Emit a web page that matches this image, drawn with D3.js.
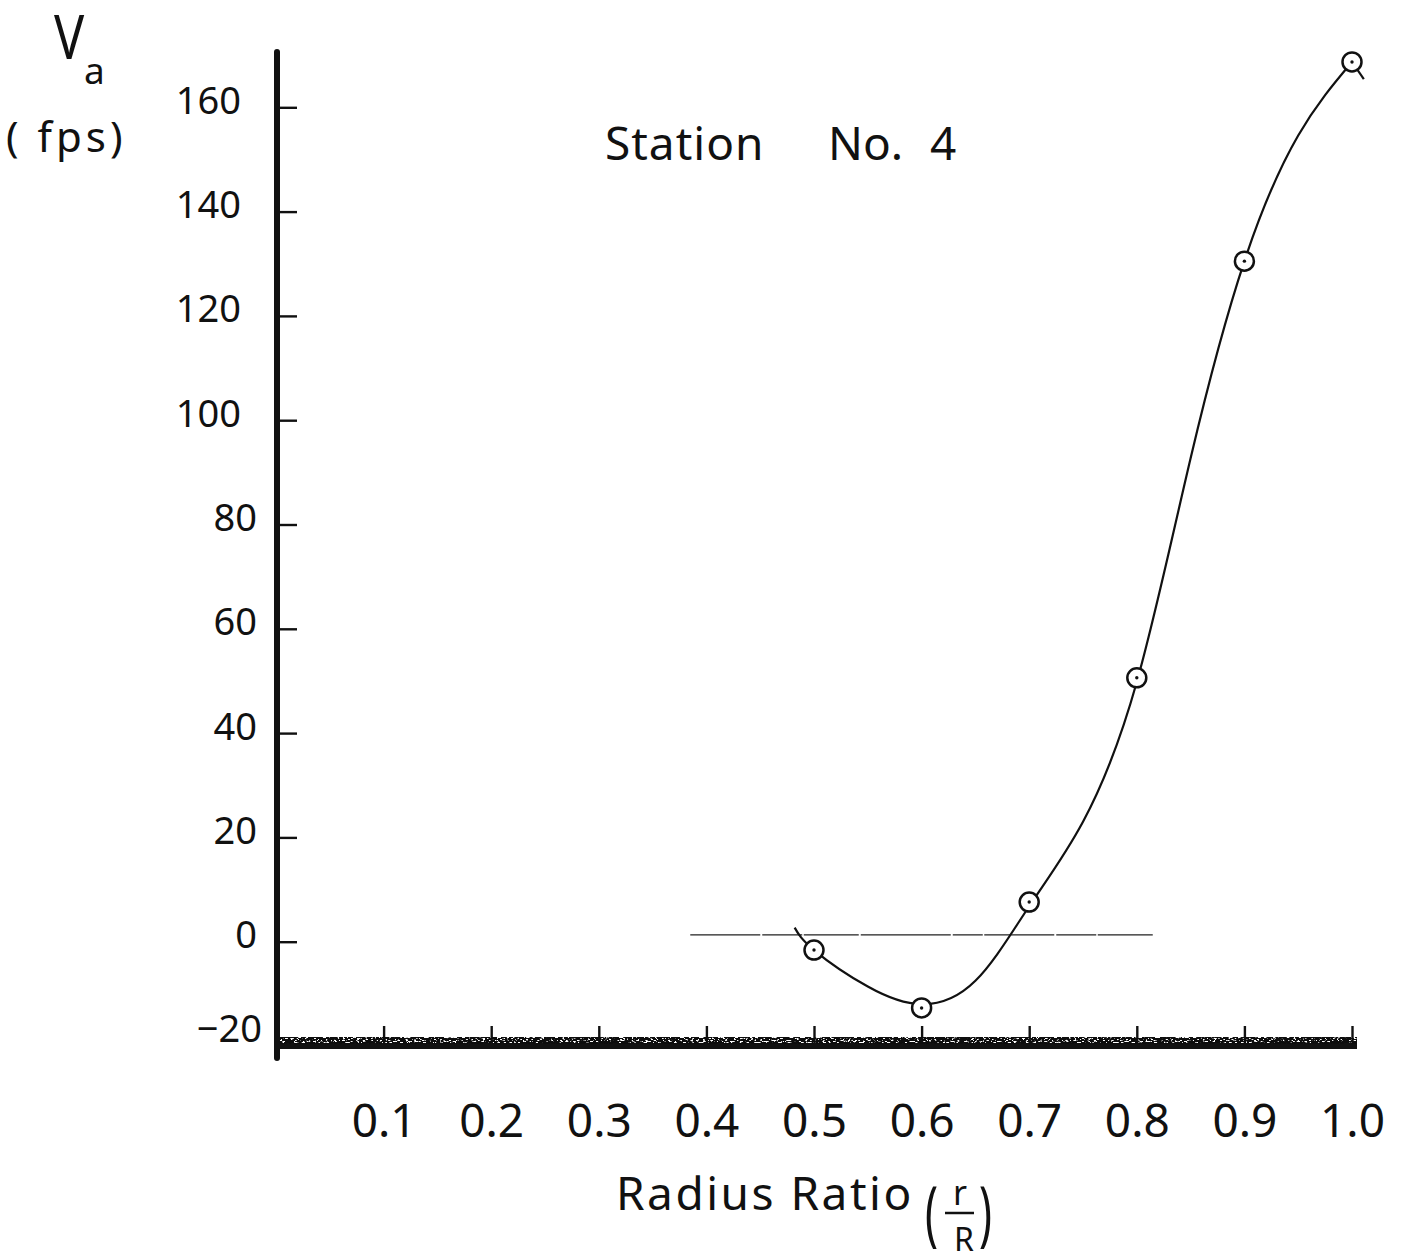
<!DOCTYPE html>
<html>
<head>
<meta charset="utf-8">
<script src="https://cdn.jsdelivr.net/npm/d3@7"></script>
<style>
  html, body { margin: 0; padding: 0; background: #fff; }
  svg { display: block; }
  text { font-family: "Noto Sans", "DejaVu Sans", sans-serif; fill: #111; }
</style>
</head>
<body>
<svg id="chart" width="1408" height="1260"></svg>
<script>
// Axial velocity profile at station 4
const xTickValues = [0.1, 0.2, 0.3, 0.4, 0.5, 0.6, 0.7, 0.8, 0.9, 1.0];
const xTickLabels = ["0.1", "0.2", "0.3", "0.4", "0.5", "0.6", "0.7", "0.8", "0.9", "1.0"];
const yTickValues = [-20, 0, 20, 40, 60, 80, 100, 120, 140, 160];
const yTickLabels = ["−20", "0", "20", "40", "60", "80", "100", "120", "140", "160"];

// measured points (radius ratio, Va in fps)
const radiusRatio = [0.5, 0.6, 0.7, 0.8, 0.9, 1.0];
const velocity = [-1.6, -12.7, 7.6, 50.6, 130.5, 168.7];

// faired curve drawn through the measurements
const curveRatio = [0.482, 0.5, 0.55, 0.6, 0.65, 0.7, 0.75, 0.8, 0.85, 0.9, 0.95, 1.0];
const curveVelocity = [2.7, -1.6, -8.6, -12.0, -7.5, 6.8, 23.0, 49.8, 92.7, 130.5, 154.6, 168.7];
// short turned-down tail past the outermost point
const tailRatio = [1.0, 1.011];
const tailVelocity = [168.7, 165.4];

// reference line near zero velocity
const refLineRatio = [0.385, 0.815];
const refLineVelocity = [1.3, 1.3];

const svg = d3.select("#chart");
svg.append("rect").attr("width", 1408).attr("height", 1260).attr("fill", "#fff");

// grain for the heavy inked baseline
const defs = svg.append("defs");
const grain = defs.append("filter").attr("id", "grain")
  .attr("filterUnits", "userSpaceOnUse")
  .attr("x", 260).attr("y", 1025).attr("width", 1110).attr("height", 35);
grain.append("feTurbulence").attr("type", "fractalNoise")
  .attr("baseFrequency", "0.35 0.8").attr("numOctaves", 2).attr("seed", 7).attr("result", "noise");
grain.append("feColorMatrix").attr("in", "noise").attr("type", "matrix")
  .attr("values", "0 0 0 0 0  0 0 0 0 0  0 0 0 0 0  12 0 0 0 -4.3").attr("result", "mask");
grain.append("feComposite").attr("in", "SourceGraphic").attr("in2", "mask").attr("operator", "in");

const x = d3.scaleLinear().domain([0, 1]).range([276, 1352]);
const y = d3.scaleLinear().domain([-20, 160]).range([1046, 107.3]);

// ---- y axis ----
const yAxis = d3.axisLeft(y)
  .tickValues(yTickValues.filter(v => v > -20))
  .tickFormat(d => yTickLabels[yTickValues.indexOf(d)])
  .tickSizeInner(-18).tickSizeOuter(0).tickPadding(22);
const gy = svg.append("g").attr("transform", "translate(279,0)").call(yAxis);
gy.select(".domain").remove();
gy.selectAll(".tick line").attr("stroke", "#111").attr("stroke-width", 2.4);
gy.selectAll(".tick text")
  .attr("font-size", 38)
  .attr("dy", "0.16em")
  .attr("x", d => Math.abs(d) >= 100 ? -38 : -22);

// label for the -20 level, which sits on the baseline
svg.append("text")
  .attr("x", 262).attr("y", y(-20) - 4)
  .attr("text-anchor", "end").attr("font-size", 38)
  .text(yTickLabels[0]);

// ---- x axis ----
const xAxis = d3.axisBottom(x)
  .tickValues(xTickValues)
  .tickFormat((d, i) => xTickLabels[i])
  .tickSizeInner(-18).tickSizeOuter(0).tickPadding(60);
const gx = svg.append("g").attr("transform", "translate(0,1044)").call(xAxis);
gx.select(".domain").remove();
gx.selectAll(".tick line").attr("stroke", "#111").attr("stroke-width", 2.4);
gx.selectAll(".tick text").attr("font-size", 46).attr("dy", "0.71em");

// heavy baseline: solid lower band, grainy upper band
svg.append("rect")
  .attr("x", 276).attr("y", 1043).attr("width", 1081).attr("height", 6)
  .attr("fill", "#111");
svg.append("rect")
  .attr("x", 276).attr("y", 1037).attr("width", 1081).attr("height", 7)
  .attr("fill", "#111").attr("filter", "url(#grain)");

// heavy vertical axis
svg.append("line")
  .attr("x1", 277).attr("x2", 277).attr("y1", 52).attr("y2", 1058)
  .attr("stroke", "#111").attr("stroke-width", 6).attr("stroke-linecap", "round");

// ---- reference line ----
svg.append("line")
  .attr("x1", x(refLineRatio[0])).attr("x2", x(refLineRatio[1]))
  .attr("y1", y(refLineVelocity[0])).attr("y2", y(refLineVelocity[1]))
  .attr("stroke", "#222").attr("stroke-width", 1.4)
  .attr("stroke-dasharray", "70 2 40 1.5 55 2 90 2 30 1.5");

// ---- faired curve ----
const curvePts = curveRatio.map((r, i) => [r, curveVelocity[i]]);
const tailPts = tailRatio.map((r, i) => [r, tailVelocity[i]]);
const line = d3.line().x(d => x(d[0])).y(d => y(d[1])).curve(d3.curveNatural);
svg.append("path")
  .attr("d", line(curvePts))
  .attr("fill", "none").attr("stroke", "#111").attr("stroke-width", 2.2);
svg.append("path")
  .attr("d", d3.line().x(d => x(d[0])).y(d => y(d[1]))(tailPts))
  .attr("fill", "none").attr("stroke", "#111").attr("stroke-width", 2.2);

// ---- measured points ----
const pts = radiusRatio.map((r, i) => [r, velocity[i]]);
const gp = svg.append("g");
gp.selectAll("circle.ring").data(pts).join("circle")
  .attr("class", "ring")
  .attr("cx", d => x(d[0])).attr("cy", d => y(d[1])).attr("r", 9.5)
  .attr("fill", "#fff").attr("stroke", "#111").attr("stroke-width", 2.5);
gp.selectAll("circle.dot").data(pts).join("circle")
  .attr("class", "dot")
  .attr("cx", d => x(d[0])).attr("cy", d => y(d[1])).attr("r", 1.7)
  .attr("fill", "#111");

// ---- titles ----
svg.append("text").attr("x", 605).attr("y", 160).attr("font-size", 46)
  .attr("letter-spacing", 1).text("Station");
svg.append("text").attr("x", 828).attr("y", 160).attr("font-size", 46)
  .text("No.");
svg.append("text").attr("x", 930).attr("y", 160).attr("font-size", 46)
  .text("4");

// y axis label: Va (fps)
svg.append("text").attr("font-size", 60)
  .attr("transform", "translate(54,59) scale(0.84,1.04)")
  .text("V");
svg.append("text").attr("x", 84).attr("y", 84).attr("font-size", 37).text("a");
svg.append("text").attr("x", 6).attr("y", 152).attr("font-size", 42)
  .attr("letter-spacing", 4).attr("xml:space", "preserve").style("white-space", "pre")
  .text("( fps)");

// x axis label: Radius Ratio (r/R)
svg.append("text").attr("x", 616).attr("y", 1210).attr("font-size", 46)
  .attr("letter-spacing", 2.5).text("Radius Ratio");
svg.append("text").attr("font-size", 72)
  .attr("transform", "translate(925,1238) scale(0.6,1)").text("(");
svg.append("text").attr("font-size", 72)
  .attr("transform", "translate(979,1238) scale(0.6,1)").text(")");
svg.append("text").attr("x", 960).attr("y", 1205).attr("font-size", 34)
  .attr("text-anchor", "middle").text("r");
svg.append("line").attr("x1", 945).attr("x2", 974).attr("y1", 1213).attr("y2", 1213)
  .attr("stroke", "#111").attr("stroke-width", 2.5);
svg.append("text").attr("x", 964).attr("y", 1251).attr("font-size", 32)
  .attr("text-anchor", "middle").text("R");
</script>
</body>
</html>
